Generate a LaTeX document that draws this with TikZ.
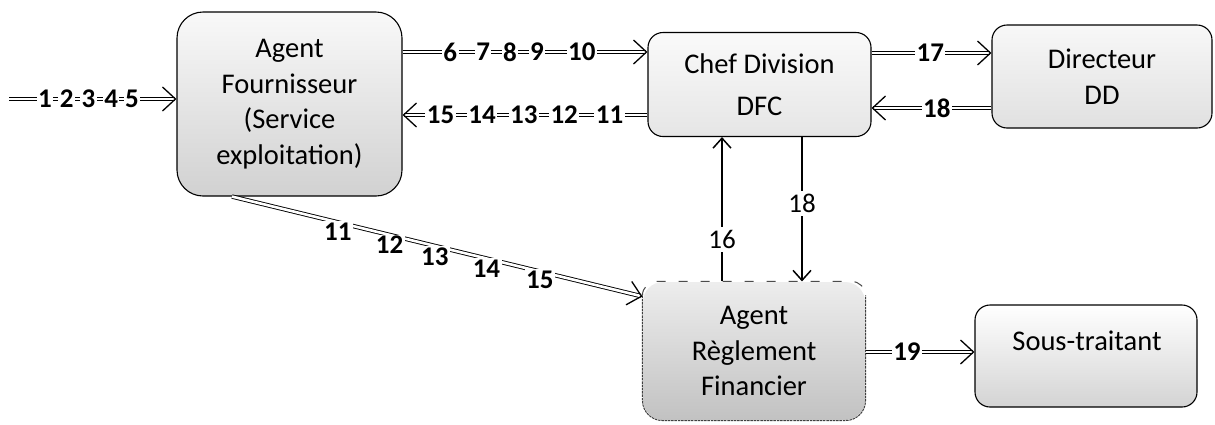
\documentclass[tikz,border=0pt]{standalone}
\usepackage{fontspec}
\setmainfont{Carlito}
\usetikzlibrary{arrows.meta,calc}

\newcommand\bxfont{\fontsize{28.5}{35.5}\selectfont}
\newcommand\lbfont{\fontsize{27}{30}\selectfont\bfseries}
\newcommand\lvfont{\fontsize{27}{30}\selectfont}

\begin{document}
\begin{tikzpicture}[x=1pt,y=-1pt,
  box/.style={draw=black, line width=1.1pt, align=center, font=\bxfont,
              inner sep=0pt, rounded corners=15pt},
  flow/.style={draw=black, line width=0.9pt, double=white, double distance=2.6pt,
               -{Straight Barb[length=13pt,width=24pt,line width=1.3pt]}},
  link/.style={draw=black, line width=1.5pt, -{Straight Barb[length=10pt,width=18pt,line width=1.5pt]}},
  num/.style={fill=white, inner sep=1.5pt, font=\lbfont},
  vnum/.style={fill=white, inner sep=3pt, font=\lvfont},
]
\useasboundingbox[fill=white] (0,0) rectangle (1215,424);

% ---- boxes ----
\node[box, rounded corners=26pt, minimum width=225pt, minimum height=184pt,
      top color=gray!5, bottom color=gray!36] (af) at (289.5,104)
      {Agent\\Fournisseur\\(Service\\exploitation)};
\node[box, minimum width=223pt, minimum height=104pt,
      top color=gray!4, bottom color=gray!20] (chef) at (759.5,84.5)
      {Chef Division\\[7pt]DFC};
\node[box, minimum width=220pt, minimum height=103pt,
      top color=gray!6, bottom color=gray!24] (dir) at (1102,76.5)
      {Directeur\\DD};
\node[box, draw=none, rounded corners=20pt, minimum width=222pt, minimum height=138pt,
      top color=gray!14, bottom color=gray!48] (rf) at (754,351)
      {Agent\\R\`eglement\\Financier};
\node[box, minimum width=222pt, minimum height=102pt,
      top color=white, middle color=gray!8, bottom color=gray!34] (st) at (1086,356) {};
\node[font=\bxfont, inner sep=0pt] (sttext) at (1087,341) {Sous-traitant};

% rough outline of the payment box: dashed top, sides and bottom solid
\draw[line width=1pt, black!75, dash pattern=on 2.5pt off 0.8pt, rounded corners=20pt]
  ($(rf.north west)+(0,14)$) -- (rf.south west) -- (rf.south east) -- ($(rf.north east)+(0,14)$);
\draw[line width=1pt, black!70, dash pattern=on 9pt off 13pt, rounded corners=14pt]
  ($(rf.north west)+(0,14)$) -- (rf.north west) -- (rf.north east) -- ($(rf.north east)+(0,14)$);

% ---- horizontal flows ----
\coordinate (src) at (9,99);
\draw[flow] (src) -- (af.west |- src)
  node[num,pos=0.215] {1} node[num,pos=0.345] {2} node[num,pos=0.475]{3}
  node[num,pos=0.61] {4} node[num,pos=0.735] {5};

\draw[flow] (af.east |- 0,52) -- (chef.west |- 0,52)
  node[num,pos=0.195] {6} node[num,pos=0.329] {7} node[num,pos=0.439] {8}
  node[num,pos=0.549] {9} node[num,pos=0.732] {10};

\draw[flow] (chef.west |- 0,115) -- (af.east |- 0,115)
  node[num,pos=0.155] {11} node[num,pos=0.34] {12} node[num,pos=0.505] {13}
  node[num,pos=0.675] {14} node[num,pos=0.845] {15};

\draw[flow] (chef.east |- 0,53) -- (dir.west |- 0,53) node[num,pos=0.49] {17};
\draw[flow] (dir.west |- 0,108) -- (chef.east |- 0,108) node[num,pos=0.455] {18};
\draw[flow] (rf.east |- 0,352) -- (st.west |- 0,352) node[num,pos=0.38] {19};

% ---- diagonal flow to the payment agent ----
\draw[flow] (af.south -| 232,0) -- ($(rf.north west)+(0,15)$)
  node[num,pos=0.258,yshift=-9pt] {11} node[num,pos=0.384,yshift=-10pt] {12}
  node[num,pos=0.494,yshift=-11pt] {13} node[num,pos=0.62,yshift=-10pt] {14}
  node[num,pos=0.75,yshift=-8pt] {15};

% ---- vertical links ----
\draw[link] (rf.north -| 722,0) -- (chef.south -| 722,0) node[vnum,pos=0.29] {16};
\draw[link] (chef.south -| 802,0) -- (rf.north -| 802,0) node[vnum,pos=0.46] {18};
\end{tikzpicture}
\end{document}
